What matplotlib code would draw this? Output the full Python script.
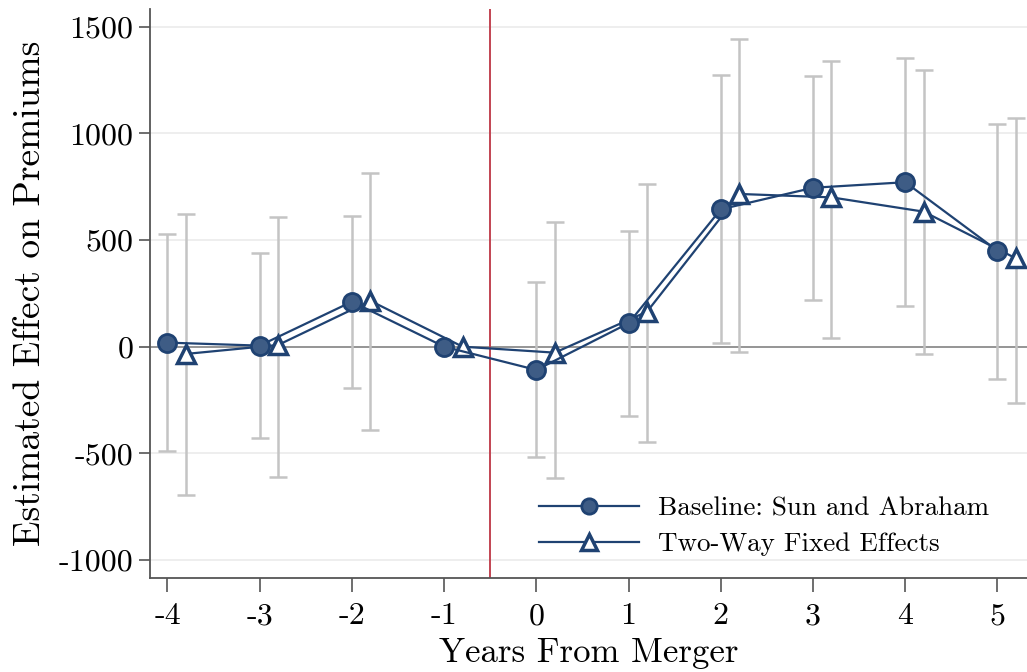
import matplotlib
matplotlib.use("Agg")
import matplotlib.pyplot as plt
import numpy as np

plt.rcParams['font.family'] = ['cmr10', 'DejaVu Serif']
plt.rcParams['axes.formatter.use_mathtext'] = True

years = [-4, -3, -2, -1, 0, 1, 2, 3, 4, 5]

# Sun and Abraham estimates with 95% CI
sa_est = [19, 5, 211, 0, -109, 110, 644, 745, 771, 450]
sa_lo = [-489, -428, -192, None, -516, -326, 17, 217, 191, -150]
sa_hi = [530, 438, 614, None, 302, 544, 1272, 1267, 1353, 1045]

# two-way fixed effects estimates with 95% CI
twfe_est = [-34, 8, 215, 0, -28, 164, 716, 700, 633, 414]
twfe_lo = [-697, -611, -392, None, -615, -445, -23, 41, -36, -262]
twfe_hi = [623, 609, 813, None, 586, 762, 1441, 1340, 1297, 1071]

yticks = [-1000, -500, 0, 500, 1000, 1500]

navy = '#1f4272'
grey = '#c4c4c4'

fig = plt.figure(figsize=(10.27, 6.72), dpi=100)
ax = fig.add_axes([0.146, 0.14, 0.854, 0.8466])

for v in yticks:
    if v != 0:
        ax.axhline(v, color='#ebebeb', lw=1.2, zorder=0)
ax.axhline(0, color='#8c8c8c', lw=1.3, zorder=1)
ax.axvline(-0.5, color='#c24452', lw=1.4, zorder=1)


def ci(xs, lo, hi):
    for x, a, b in zip(xs, lo, hi):
        if a is None:
            continue
        ax.errorbar([x], [(a + b) / 2], yerr=[[(b - a) / 2], [(b - a) / 2]],
                    fmt='none', ecolor=grey, elinewidth=1.8, capsize=6.5,
                    capthick=1.8, zorder=2)


x_sa = np.array(years, dtype=float)
x_tw = x_sa + 0.2
ci(x_sa, sa_lo, sa_hi)
ci(x_tw, twfe_lo, twfe_hi)

ax.plot(x_sa, sa_est, color=navy, lw=1.6, marker='o', ms=13,
        mfc='#3e5c85', mec=navy, mew=2, zorder=4,
        label='Baseline: Sun and Abraham')
ax.plot(x_tw, twfe_est, color=navy, lw=1.6, marker='^', ms=13,
        mfc='white', mec=navy, mew=2.5, zorder=3,
        label='Two-Way Fixed Effects')

ax.set_xlim(-4.19, 5.32)
ax.set_ylim(-1084, 1583)
ax.set_xticks(years)
ax.set_xticklabels([str(y) for y in years], fontsize=23)
ax.set_yticks(yticks)
ax.set_yticklabels([str(v) for v in yticks], fontsize=23)
ax.tick_params(axis='x', length=10, width=1.2, color='#555555', pad=8)
ax.tick_params(axis='y', length=8, width=1.2, color='#555555', pad=4)

for s in ['top', 'right']:
    ax.spines[s].set_visible(False)
for s in ['left', 'bottom']:
    ax.spines[s].set_color('#555555')
    ax.spines[s].set_linewidth(1.3)

ax.set_xlabel('Years From Merger', fontsize=25, labelpad=5)
ax.set_ylabel('Estimated Effect on Premiums', fontsize=27, labelpad=8)

ax.legend(loc='lower right', bbox_to_anchor=(0.985, -0.005), frameon=False,
          fontsize=19.5, handlelength=3.7, markerscale=0.85,
          labelspacing=0.45, handletextpad=0.7)

fig.savefig('out.png', dpi=100)
